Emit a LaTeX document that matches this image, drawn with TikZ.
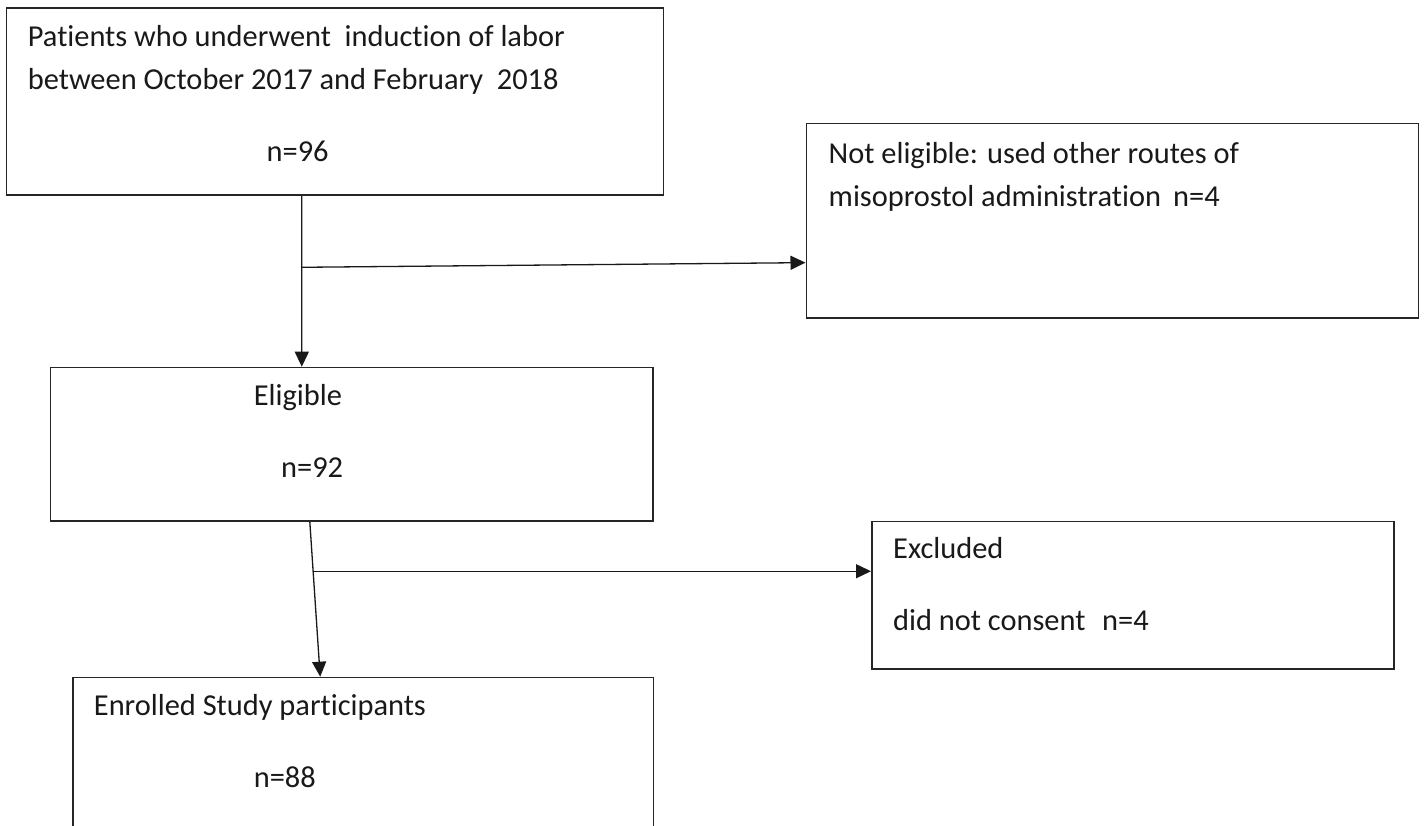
\documentclass[tikz,border=0pt]{standalone}
\usepackage{fontspec}
\setmainfont{Carlito}[Ligatures=NoCommon]
\usetikzlibrary{arrows.meta,calc}
\begin{document}
\begin{tikzpicture}[x=1pt,y=-1pt,
  box/.style={draw=black!85, line width=1.6pt, inner sep=0pt, anchor=north west, fill=white},
  txt/.style={anchor=base west, inner sep=0pt, font=\fontsize{30.4}{36}\selectfont, text=black!90},
  arr/.style={draw=black!90, line width=1.3pt, -{Triangle[length=15pt,width=14pt]}}]
\useasboundingbox[fill=white] (0,0) rectangle (1424,826);
% boxes
\node[box, minimum width=656.7pt, minimum height=187.2pt] (b1) at (5.8,7.3) {};
\node[box, minimum width=612.3pt, minimum height=194.3pt] (b2) at (805.5,122.7) {};
\node[box, minimum width=602.7pt, minimum height=153.3pt] (elig) at (49.75,366.7) {};
\node[box, minimum width=522pt, minimum height=147.3pt] (exc) at (871,520.7) {};
\node[box, minimum width=580.4pt, minimum height=148.8pt] (enr) at (72.3,676.7) {};
% texts
\node[txt] (t1a) at (27.7,46.7) {Patients who underwent\hspace{0.45em}induction of labor};
\node[txt] (t1b) at (27.7,89.3) {between October 2017 and February\hspace{0.45em}2018};
\node[txt] (t1c) at (266.5,161.7) {n=96};
\node[txt] (t2a) at (828.5,163.3) {Not eligible: used other routes of};
\node[txt] (t2b) at (828.5,206.7) {misoprostol administration\hspace{0.4em}n=4};
\node[txt] (t3a) at (253.7,405) {Eligible};
\node[txt] (t3b) at (281,477.3) {n=92};
\node[txt] (t4a) at (893,558.3) {Excluded};
\node[txt] (t4b) at (893,630.7) {did not consent\hspace{0.55em}n=4};
\node[txt] (t5a) at (93.75,715) {Enrolled Study participants};
\node[txt] (t5b) at (253.6,787.3) {n=88};
% connectors
\draw[arr] ([xshift=-33.15pt]b1.south) -- ([xshift=-50.1pt]elig.north);
\coordinate (j1) at (301,267.3);
\draw[arr] (j1) -- ([yshift=-42pt]b2.west);
\coordinate (p2) at ([xshift=-42.1pt]elig.south);
\coordinate (q2) at ([xshift=-43.1pt]enr.north);
\draw[arr] (p2) -- (q2);
\coordinate (j2) at ($(p2)!0.32!(q2)$);
\draw[arr] (j2) -- (exc.west |- j2);
\end{tikzpicture}
\end{document}
